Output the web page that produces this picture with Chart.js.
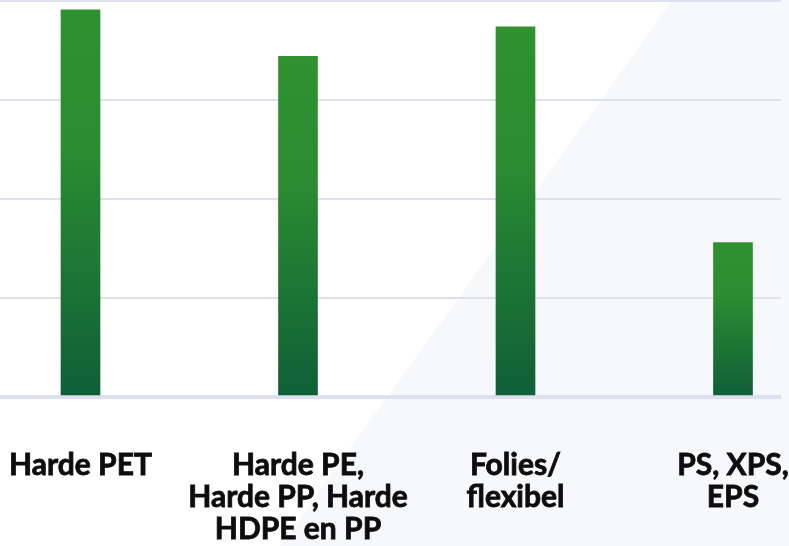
<!DOCTYPE html>
<html>
<head>
<meta charset="utf-8">
<script src="https://cdn.jsdelivr.net/npm/chart.js@4"></script>
<style>
  html, body { margin: 0; padding: 0; background: #ffffff; overflow: hidden; }
  #wrap { position: relative; width: 789px; height: 546px; }
  #deco { position: absolute; inset: 0; background: #f7f8fc;
          clip-path: polygon(673px 0, 789px 0, 789px 546px, 280px 546px); }
  #c { position: absolute; left: 0; top: 0; }
</style>
</head>
<body>
<div id="wrap">
  <div id="deco"></div>
  <canvas id="c" width="789" height="546"></canvas>
</div>
<script>
const categories = [
  ["Harde PET"],
  ["Harde PE,", "Harde PP, Harde", "HDPE en PP"],
  ["Folies/", "flexibel"],
  ["PS, XPS,", "EPS"]
];
const values = [39.1, 34.4, 37.4, 15.6];
const yTicks = [0, 10, 20, 30, 40];

const points = values.map((v, i) => ({ x: i, y: v }));

function barGradient(context) {
  const chart = context.chart;
  const yScale = chart.scales.y;
  if (!yScale || context.raw === undefined) return '#2e8f30';
  const top = yScale.getPixelForValue(context.raw.y);
  const bottom = yScale.getPixelForValue(0);
  if (!isFinite(top) || !isFinite(bottom) || top === bottom) return '#2e8f30';
  const g = chart.ctx.createLinearGradient(0, top, 0, bottom);
  g.addColorStop(0, '#2f9130');
  g.addColorStop(0.35, '#2c8c31');
  g.addColorStop(1, '#0e5f37');
  return g;
}

new Chart(document.getElementById('c'), {
  type: 'bar',
  data: {
    datasets: [{
      data: points,
      backgroundColor: barGradient,
      borderWidth: 0,
      barThickness: 39
    }]
  },
  options: {
    responsive: false,
    animation: false,
    layout: { padding: { top: 1, right: 8, left: 0, bottom: 0 } },
    plugins: { legend: { display: false }, tooltip: { enabled: false } },
    scales: {
      x: {
        type: 'linear',
        offset: false,
        min: -0.3701,
        max: 3.2207,
        grid: { display: false, drawTicks: false, offset: false },
        border: { display: false },
        afterBuildTicks: (s) => { s.ticks = categories.map((_, i) => ({ value: i })); },
        afterFit: (s) => { s.height = 149; s.paddingLeft = 0; s.paddingRight = 0; },
        ticks: {
          autoSkip: false,
          maxRotation: 0,
          padding: 52,
          color: '#0d0d0d',
          textStrokeColor: '#0d0d0d',
          textStrokeWidth: 0.8,
          font: { family: 'Lato', weight: 'bold', size: 30, lineHeight: 1.067 },
          callback: (v) => categories[v] || ''
        }
      },
      y: {
        min: 0,
        max: 40,
        afterBuildTicks: (s) => { s.ticks = yTicks.map(v => ({ value: v })); },
        ticks: { display: false },
        border: { display: false },
        grid: {
          drawTicks: false,
          color: '#dde0f1',
          lineWidth: (ctx) => (ctx.tick && ctx.tick.value === 0 ? 4 : 2)
        }
      }
    }
  }
});
</script>
</body>
</html>
